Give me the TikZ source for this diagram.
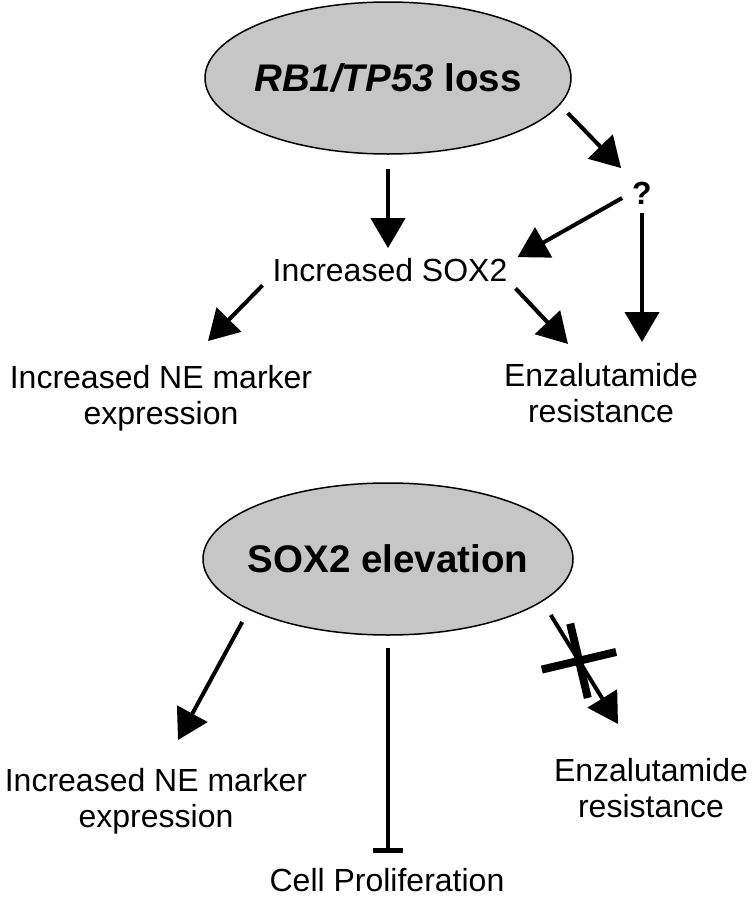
\documentclass[tikz,border=0pt]{standalone}
\usepackage{fontspec}
\setmainfont{Liberation Sans}
\usetikzlibrary{arrows.meta,shapes.geometric,shapes.misc}
\definecolor{ovalgray}{RGB}{198,198,198}
\tikzset{every picture/.style={line width=0.75pt}}
\tikzset{
  oval/.style={ellipse, draw, line width=1.5pt, fill=ovalgray, inner xsep=-60pt, inner ysep=0.75pt, font=\fontsize{38.5}{44}\selectfont\bfseries},
  txt/.style={inner sep=0.75pt, align=center, font=\fontsize{32}{36}\selectfont},
  arr/.style={line width=4pt, -{Triangle[length=30pt,width=34pt]}},
  blk/.style={line width=4pt, -{Bar[width=30pt,line width=5pt]}},
  crossmark/.style={cross out, draw, line width=8pt, minimum size=46pt, inner sep=0pt, sloped}
}

\begin{document}
\begin{tikzpicture}[x=1pt,y=1pt,yscale=-1,xscale=1]
\useasboundingbox (0,0) rectangle (752,900);
% Shape: Ellipse
\node[oval, minimum width=366pt, minimum height=152pt] (rbloss) at (388,78) {\textit{RB1/TP53} loss};
% Text Node
\node[txt] (soxup) at (390,270) {Increased SOX2};
% Text Node
\node[txt, font=\fontsize{32}{36}\selectfont\bfseries] (q) at (642,193) {?};
% Text Node
\node[txt, anchor=north] (neup) at (161,364) {Increased NE marker\\expression};
% Text Node
\node[txt, anchor=north] (enzres) at (601,362) {Enzalutamide\\resistance};
% Shape: Ellipse
\node[oval, minimum width=370pt, minimum height=152pt] (soxelev) at (388,559) {SOX2 elevation};
% Text Node
\node[txt, anchor=north] (nelow) at (156,767) {Increased NE marker\\expression};
% Text Node
\node[txt, anchor=north] (enzlow) at (651,757) {Enzalutamide\\resistance};
% Text Node
\node[txt, anchor=north] (prolif) at (387,867) {Cell Proliferation};

% Straight Lines
\draw[arr] ([yshift=14pt]rbloss.south) -- ([yshift=-9pt]rbloss.south |- soxup.north);
\draw[arr] ([xshift=-4pt,yshift=35pt]rbloss.east) -- ([xshift=-10pt,yshift=-12.6pt]q.north west);
\draw[arr] ([xshift=-9pt,yshift=5pt]q.west) -- ([xshift=9pt]soxup.north east);
\draw[arr] ([yshift=8pt]q.south) -- ([yshift=-20pt]q.south |- enzres.north);
\draw[arr] ([xshift=7pt,yshift=5.5pt]soxup.south east) -- ([xshift=-33pt,yshift=-18pt]enzres.north);
\draw[arr] ([xshift=-9pt,yshift=2.5pt]soxup.south west) -- ([xshift=47pt,yshift=-23pt]neup.north);
% Straight Lines
\draw[arr] ([xshift=40pt,yshift=63pt]soxelev.west) -- ([xshift=22pt,yshift=-27pt]nelow.north);
\draw[blk] ([yshift=12pt]soxelev.south) -- ([yshift=-14pt]soxelev.south |- prolif.north);
\draw[arr] ([xshift=-23pt,yshift=56pt]soxelev.east) -- ([xshift=-33pt,yshift=-33pt]enzlow.north) node[crossmark, pos=0.42] {};
\end{tikzpicture}
\end{document}
